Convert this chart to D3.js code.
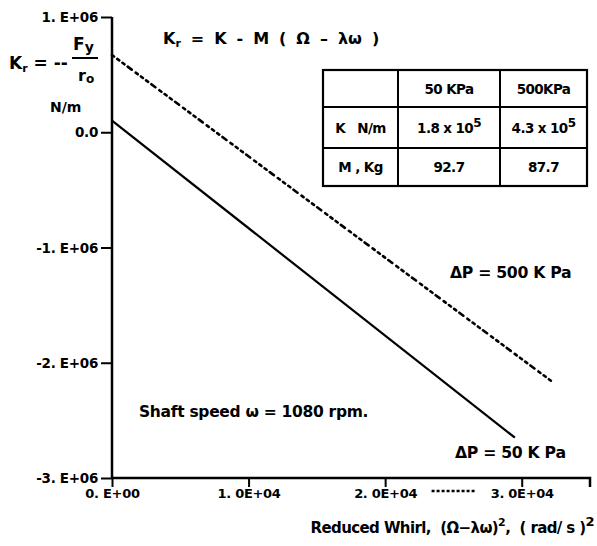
<!DOCTYPE html>
<html>
<head>
<meta charset="utf-8">
<script src="https://cdn.jsdelivr.net/npm/d3@7"></script>
<style>
  html, body { margin: 0; padding: 0; background: #fff; }
  svg { display: block; }
  text { font-family: "DejaVu Sans", "Liberation Sans", Arial, sans-serif; font-weight: bold; fill: #000; white-space: pre; }
</style>
</head>
<body>
<svg id="chart" width="597" height="546"></svg>
<script>
// Axis ticks
const xTickValues = [0, 1e4, 2e4, 3e4];
const xTickLabels = ["0. E+00", "1. 0E+04", "2. 0E+04", "3. 0E+04"];
const yTickValues = [1e6, 0, -1e6, -2e6, -3e6];
const yTickLabels = ["1. E+06", "0.0", "-1. E+06", "-2. E+06", "-3. E+06"];

// Measured stiffness lines: reduced whirl (rad/s)^2 vs K_r (N/m)
const whirl50 = [0, 2.95e4];
const kr50 = [0.10e6, -2.65e6];
const whirl500 = [0, 3.23e4];
const kr500 = [0.67e6, -2.17e6];

// Fitted coefficients table
const tableHeader = ["", "50 KPa", "500KPa"];
const tableStiffness = ["K   N/m", "1.8 x 10", "4.3 x 10"];
const tableMass = ["M , Kg", "92.7", "87.7"];

const svg = d3.select("#chart");
const x = d3.scaleLinear().domain([0, 3.5e4]).range([112, 590]);
const y = d3.scaleLinear().domain([-3e6, 1e6]).range([478, 17]);

// Axes
const yAxis = d3.axisLeft(y).tickValues(yTickValues)
  .tickFormat((d, i) => yTickLabels[i]).tickSize(11).tickPadding(3);
const gy = svg.append("g").attr("transform", `translate(${x(0)},0)`).call(yAxis);
gy.select(".domain").attr("stroke", "#000").attr("stroke-width", 2.5).attr("d", `M0,${y(1e6)}V${y(-3e6)}`);
gy.selectAll(".tick line").attr("stroke", "#000").attr("stroke-width", 2);
gy.selectAll(".tick text").style("font-size", "13.5px").style("letter-spacing", "-0.3px").attr("dy", "0.35em");

const xAxis = d3.axisBottom(x).tickValues(xTickValues)
  .tickFormat((d, i) => xTickLabels[i]).tickSize(9).tickPadding(2);
const gx = svg.append("g").attr("transform", `translate(0,${y(-3e6)})`).call(xAxis);
gx.select(".domain").attr("stroke", "#000").attr("stroke-width", 2.5).attr("d", `M${x(0)},0H${x(3.5e4)}V9`);
gx.selectAll(".tick line").attr("stroke", "#000").attr("stroke-width", 2);
gx.selectAll(".tick text").style("font-size", "13px").style("letter-spacing", "-0.3px");

// Lines
const line = d3.line().x(d => x(d[0])).y(d => y(d[1]));
svg.append("path")
  .datum(whirl500.map((w, i) => [w, kr500[i]]))
  .attr("d", line).attr("fill", "none").attr("stroke", "#000")
  .attr("stroke-width", 2.6).attr("stroke-linecap", "round")
  .attr("stroke-dasharray", "2.5,4,2.5,4,2.5,4,5,5");
svg.append("path")
  .datum(whirl50.map((w, i) => [w, kr50[i]]))
  .attr("d", line).attr("fill", "none").attr("stroke", "#000")
  .attr("stroke-width", 2.2);

// Small dotted fragment just below the whirl axis
svg.append("line")
  .attr("x1", x(2.34e4)).attr("x2", x(2.66e4))
  .attr("y1", y(-3e6) + 13).attr("y2", y(-3e6) + 13)
  .attr("stroke", "#000").attr("stroke-width", 2.5)
  .attr("stroke-dasharray", "3,2");

// Y-axis label: K_r = -- F_y / r_o, N/m
const yl = svg.append("g");
yl.append("text").attr("x", 9).attr("y", 69).style("font-size", "17px")
  .html('K<tspan font-size="11px" dy="3">r</tspan><tspan dy="-3"> = --</tspan>');
yl.append("text").attr("x", 73).attr("y", 50).style("font-size", "17px")
  .html('F<tspan font-size="14px" dy="2">y</tspan>');
yl.append("line").attr("x1", 72).attr("x2", 98).attr("y1", 58).attr("y2", 58)
  .attr("stroke", "#000").attr("stroke-width", 2);
yl.append("text").attr("x", 78).attr("y", 81).style("font-size", "16px")
  .html('r<tspan font-size="12px" dy="2">o</tspan>');
yl.append("text").attr("x", 50).attr("y", 112).style("font-size", "14px").text("N/m");

// Model equation
svg.append("text").attr("x", 163).attr("y", 44).style("font-size", "16px")
  .style("word-spacing", "4.4px")
  .html('K<tspan font-size="11px" dy="3">r</tspan><tspan dy="-3"> = K - M ( Ω – λω )</tspan>');

// Coefficients table
const colX = [323, 398, 500, 587];
const rowY = [70, 107, 148, 186];
const tg = svg.append("g");
tg.append("rect").attr("x", colX[0]).attr("y", rowY[0])
  .attr("width", colX[3] - colX[0]).attr("height", rowY[3] - rowY[0])
  .attr("fill", "none").attr("stroke", "#000").attr("stroke-width", 2.2);
[colX[1], colX[2]].forEach(cx => tg.append("line").attr("x1", cx).attr("x2", cx)
  .attr("y1", rowY[0]).attr("y2", rowY[3]).attr("stroke", "#000").attr("stroke-width", 2));
[rowY[1], rowY[2]].forEach(ry => tg.append("line").attr("x1", colX[0]).attr("x2", colX[3])
  .attr("y1", ry).attr("y2", ry).attr("stroke", "#000").attr("stroke-width", 2));
const rows = [tableHeader, tableStiffness, tableMass];
rows.forEach((row, r) => {
  row.forEach((cell, c) => {
    if (!cell) return;
    const cx = (colX[c] + colX[c + 1]) / 2;
    const cy = (rowY[r] + rowY[r + 1]) / 2 + 5;
    const t = tg.append("text").attr("x", cx).attr("y", cy)
      .attr("text-anchor", "middle").style("font-size", "13.5px")
      .style("letter-spacing", "-0.6px");
    if (r === 1 && c > 0) {
      t.text(cell).append("tspan").attr("dy", -6).style("font-size", "12px").text("5");
    } else {
      t.text(cell);
    }
  });
});

// Curve annotations
svg.append("text").attr("x", 450).attr("y", 278).style("font-size", "15.7px")
  .style("letter-spacing", "-0.3px").text("ΔP = 500 K Pa");
svg.append("text").attr("x", 455).attr("y", 458).style("font-size", "15.7px")
  .style("letter-spacing", "-0.3px").text("ΔP = 50 K Pa");
svg.append("text").attr("x", 139).attr("y", 417).style("font-size", "15.5px")
  .style("letter-spacing", "-0.3px").text("Shaft speed ω = 1080 rpm.");

// X-axis title
svg.append("text").attr("x", 594).attr("y", 533).attr("text-anchor", "end")
  .style("font-size", "15px").style("letter-spacing", "-0.6px")
  .html('Reduced Whirl,  (Ω−λω)<tspan dy="-7" font-size="11px">2</tspan><tspan dy="7">,  ( rad/ s )</tspan><tspan dy="-7" font-size="13px">2</tspan>');
</script>
</body>
</html>
